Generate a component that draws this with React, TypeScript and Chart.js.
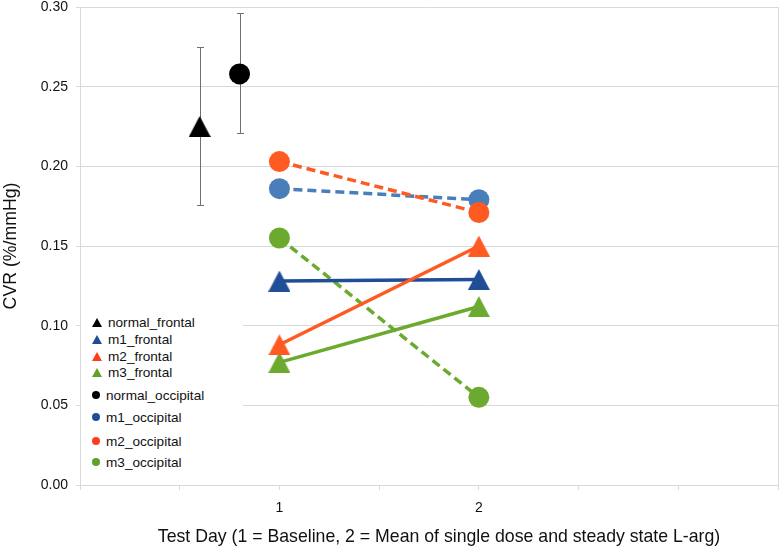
import React, { useEffect, useRef } from 'react';
import { Chart, registerables } from 'chart.js';

Chart.register(...registerables);

// ---- data ----
const days = [1, 2];
const xTickLabels = ['1', '2'];
const yMin = 0;
const yMax = 0.3;
const yStep = 0.05;
const xMin = 0;
const xMax = 3.5;
const xTitle = 'Test Day (1 = Baseline, 2 = Mean of single dose and steady state L-arg)';
const yTitle = 'CVR (%/mmHg)';

const normalFrontalX = 0.6;
const normalFrontal = 0.225;
const normalFrontalErr = [0.176, 0.275];
const normalOccipitalX = 0.8;
const normalOccipital = 0.258;
const normalOccipitalErr = [0.221, 0.296];

const m1Frontal = [0.128, 0.129];
const m2Frontal = [0.088, 0.15];
const m3Frontal = [0.077, 0.112];
const m1Occipital = [0.186, 0.179];
const m2Occipital = [0.203, 0.171];
const m3Occipital = [0.155, 0.055];

const legendLabels = [
  'normal_frontal',
  'm1_frontal',
  'm2_frontal',
  'm3_frontal',
  'normal_occipital',
  'm1_occipital',
  'm2_occipital',
  'm3_occipital',
];

const FONT = '"Liberation Sans", Arial, Helvetica, sans-serif';
const BLACK = '#000000';
const DARKBLUE = '#1F4E96';
const LIGHTBLUE = '#4A7EBB';
const ORANGE = '#FF5A22';
const GREEN = '#6BAA2E';
const GRID = '#d9d9d9';

function triangle(color: string, w = 22, h = 21): HTMLCanvasElement {
  const c = document.createElement('canvas');
  c.width = w;
  c.height = h;
  const ctx = c.getContext('2d')!;
  ctx.fillStyle = color;
  ctx.beginPath();
  ctx.moveTo(w / 2, 0);
  ctx.lineTo(w, h);
  ctx.lineTo(0, h);
  ctx.closePath();
  ctx.fill();
  return c;
}

const errorBarPlugin = {
  id: 'errorBars',
  beforeDatasetsDraw(chart: any) {
    const { ctx, scales } = chart;
    const x = scales.x;
    const y = scales.y;
    const bars = [
      { x: normalFrontalX, lo: normalFrontalErr[0], hi: normalFrontalErr[1] },
      { x: normalOccipitalX, lo: normalOccipitalErr[0], hi: normalOccipitalErr[1] },
    ];
    ctx.save();
    ctx.strokeStyle = '#707070';
    ctx.lineWidth = 1;
    for (const b of bars) {
      const px = Math.round(x.getPixelForValue(b.x)) + 0.5;
      const pl = Math.round(y.getPixelForValue(b.lo)) + 0.5;
      const ph = Math.round(y.getPixelForValue(b.hi)) + 0.5;
      ctx.beginPath();
      ctx.moveTo(px, pl);
      ctx.lineTo(px, ph);
      ctx.moveTo(px - 3.5, pl);
      ctx.lineTo(px + 3.5, pl);
      ctx.moveTo(px - 3.5, ph);
      ctx.lineTo(px + 3.5, ph);
      ctx.stroke();
    }
    ctx.restore();
  },
};

function series(label: string, vals: number[], color: string, tri: boolean, dashed: boolean, order: number) {
  return {
    label,
    data: days.map((d, i) => ({ x: d, y: vals[i] })),
    borderColor: color,
    backgroundColor: color,
    borderWidth: 3.5,
    borderDash: dashed ? [9, 5] : [],
    pointStyle: tri ? triangle(color) : 'circle',
    pointRadius: 10.5,
    pointBackgroundColor: color,
    pointBorderWidth: 0,
    pointBorderColor: color,
    showLine: true,
    tension: 0,
    order,
  };
}

export default function App() {
  const ref = useRef<HTMLCanvasElement>(null);

  useEffect(() => {
    if (!ref.current) return;
    const chart = new Chart(ref.current, {
      type: 'line',
      data: {
        datasets: [
          {
            label: 'normal_occipital',
            data: [{ x: normalOccipitalX, y: normalOccipital }],
            pointStyle: 'circle',
            pointRadius: 10.5,
            pointBackgroundColor: BLACK,
            pointBorderWidth: 0,
            borderColor: BLACK,
            showLine: false,
            order: 0,
          },
          {
            label: 'normal_frontal',
            data: [{ x: normalFrontalX, y: normalFrontal }],
            pointStyle: triangle(BLACK),
            pointRadius: 10.5,
            pointBackgroundColor: BLACK,
            pointBorderWidth: 0,
            borderColor: BLACK,
            showLine: false,
            order: 1,
          },
          series('m2_occipital', m2Occipital, ORANGE, false, true, 2),
          series('m1_occipital', m1Occipital, LIGHTBLUE, false, true, 3),
          series('m2_frontal', m2Frontal, ORANGE, true, false, 4),
          series('m1_frontal', m1Frontal, DARKBLUE, true, false, 5),
          series('m3_frontal', m3Frontal, GREEN, true, false, 6),
          series('m3_occipital', m3Occipital, GREEN, false, true, 7),
        ] as any,
      },
      options: {
        animation: false,
        responsive: false,
        maintainAspectRatio: false,
        layout: { autoPadding: false, padding: { top: 7, right: 3, left: 0, bottom: 0 } },
        plugins: {
          legend: { display: false },
          tooltip: { enabled: false },
        },
        scales: {
          x: {
            type: 'linear',
            min: xMin,
            max: xMax,
            afterFit: (s: any) => {
              s.height = 64;
              s.paddingLeft = 0;
              s.paddingRight = 0;
            },
            ticks: {
              stepSize: 0.5,
              autoSkip: false,
              maxRotation: 0,
              padding: 10,
              color: '#111',
              font: { family: FONT, size: 14 },
              callback: (v: any) => {
                const i = days.indexOf(Number(v));
                return i >= 0 ? xTickLabels[i] : '';
              },
            },
            grid: {
              color: (c: any) => (c.tick && c.tick.value === xMax ? GRID : 'rgba(0,0,0,0)'),
              tickColor: GRID,
              tickLength: 5,
              lineWidth: 1,
            },
            border: { display: true, color: GRID },
            title: { display: false },
          },
          y: {
            type: 'linear',
            min: yMin,
            max: yMax,
            afterFit: (s: any) => {
              s.width = 80;
              s.paddingTop = 0;
              s.paddingBottom = 0;
            },
            ticks: {
              stepSize: yStep,
              padding: 8,
              color: '#111',
              font: { family: FONT, size: 14, lineHeight: 1 },
              callback: (v: any) => Number(v).toFixed(2),
            },
            grid: { color: GRID, tickLength: 4, lineWidth: 1 },
            border: { display: true, color: GRID },
            title: {
              display: true,
              text: yTitle,
              color: '#111',
              font: { family: FONT, size: 17.7 },
              padding: { top: 0, bottom: 0 },
            },
          },
        },
      } as any,
      plugins: [errorBarPlugin],
    });
    return () => chart.destroy();
  }, []);

  const legendColors = [BLACK, DARKBLUE, '#FF3B1F', '#5FA12A', BLACK, DARKBLUE, '#FF3B1F', '#5FA12A'];
  const rowCenters = [11, 28, 45, 61, 83.5, 106, 130, 151];

  return (
    <div style={{ position: 'fixed', left: 0, top: 0, width: 781, height: 549, background: '#fff', overflow: 'hidden' }}>
      <canvas ref={ref} width={781} height={549} style={{ display: 'block', width: 781, height: 549 }} />
      <div
        style={{
          position: 'absolute',
          left: 0,
          top: 526,
          width: 878,
          height: 21,
          lineHeight: '21px',
          textAlign: 'center',
          fontFamily: FONT,
          fontSize: 17.7,
          color: '#111',
          whiteSpace: 'nowrap',
        }}
      >
        {xTitle}
      </div>
      <div
        style={{
          position: 'absolute',
          left: 81,
          top: 312,
          width: 162,
          height: 160,
          background: '#fff',
          fontFamily: FONT,
          fontSize: 13.6,
          color: '#111',
        }}
      >
        {legendLabels.map((lab, i) => {
          const tri = i < 4;
          const cy = rowCenters[i];
          return (
            <div key={lab} style={{ position: 'absolute', left: 0, top: cy - 8, height: 16, width: 162 }}>
              {tri ? (
                <div
                  style={{
                    position: 'absolute',
                    left: 11,
                    top: 3,
                    width: 0,
                    height: 0,
                    borderLeft: '5px solid transparent',
                    borderRight: '5px solid transparent',
                    borderBottom: `9px solid ${legendColors[i]}`,
                  }}
                />
              ) : (
                <div
                  style={{
                    position: 'absolute',
                    left: 11,
                    top: 3,
                    width: 8,
                    height: 8,
                    borderRadius: '50%',
                    background: legendColors[i],
                  }}
                />
              )}
              <span
                style={{
                  position: 'absolute',
                  left: tri ? 27 : 25,
                  top: 0,
                  lineHeight: '16px',
                  whiteSpace: 'nowrap',
                }}
              >
                {lab}
              </span>
            </div>
          );
        })}
      </div>
    </div>
  );
}
